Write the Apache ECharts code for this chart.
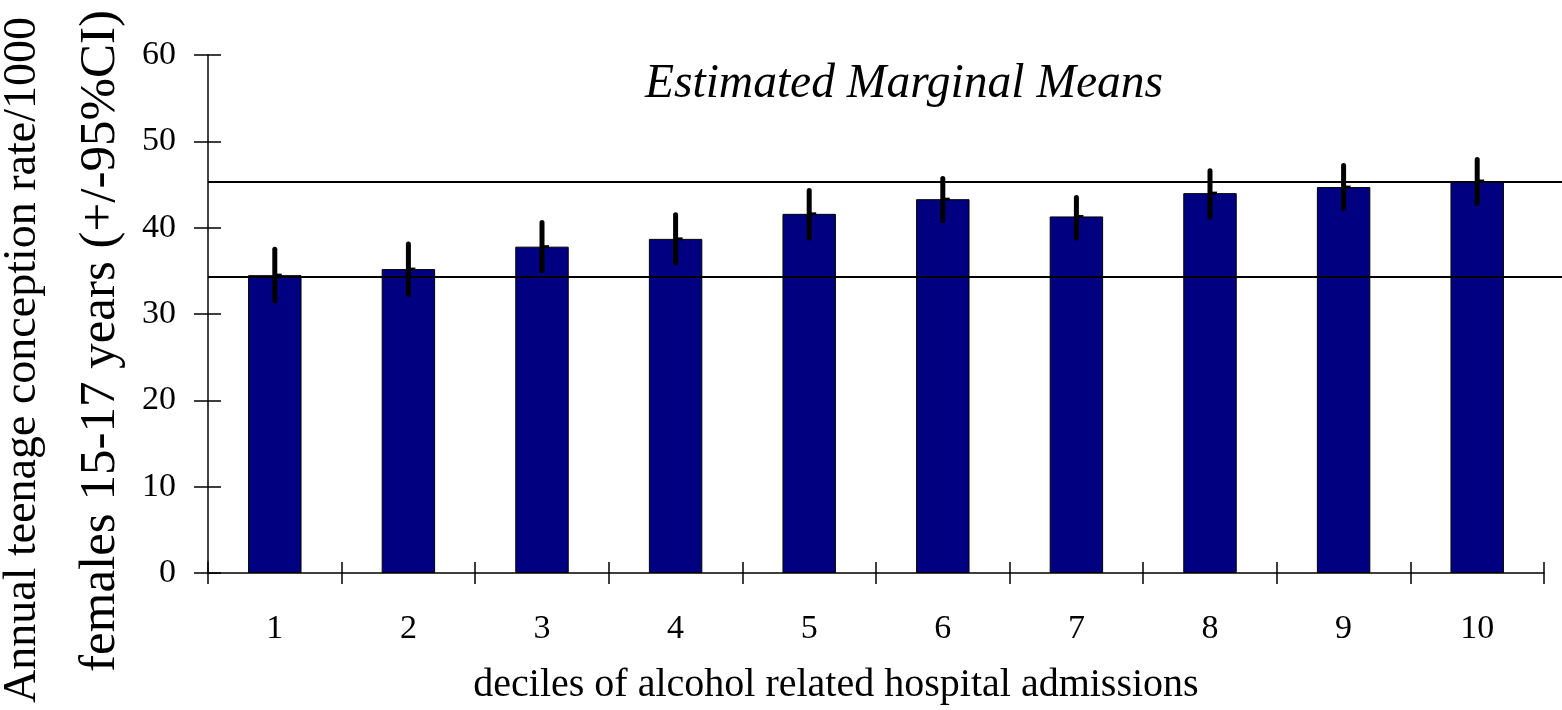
<!DOCTYPE html>
<html>
<head>
<meta charset="utf-8">
<script src="https://cdn.jsdelivr.net/npm/echarts@6/dist/echarts.min.js"></script>
<style>
  html, body { margin: 0; padding: 0; background: #fff; }
  #chart { width: 1562px; height: 710px; }
</style>
</head>
<body>
<div id="chart"></div>
<script>
// deciles of alcohol related hospital admissions
const categories = ["1", "2", "3", "4", "5", "6", "7", "8", "9", "10"];
// estimated marginal means and 95% CI
const means = [34.5, 35.2, 37.8, 38.7, 41.6, 43.3, 41.3, 44.0, 44.7, 45.4];
const lower = [31.5, 32.3, 35.0, 35.9, 38.8, 40.8, 38.8, 41.2, 42.2, 42.8];
const upper = [37.5, 38.1, 40.6, 41.5, 44.3, 45.7, 43.5, 46.6, 47.2, 47.9];
// horizontal reference lines
const refLines = [45.3, 34.3];

const fontFamily = "Liberation Serif";

const chart = echarts.init(document.getElementById("chart"));

const yBase = {
  type: "value",
  min: 0,
  max: 60,
  interval: 10,
  splitLine: { show: false }
};

const option = {
  backgroundColor: "#fff",
  animation: false,
  title: {
    text: "Estimated Marginal Means",
    left: 899,
    top: 56,
    textAlign: "center",
    textStyle: {
      fontFamily: fontFamily,
      fontStyle: "italic",
      fontWeight: "normal",
      fontSize: 47.5,
      color: "#000"
    }
  },
  grid: {
    left: 208,
    right: 18,
    top: 55,
    bottom: 137,
    containLabel: false,
    outerBoundsMode: "none"
  },
  xAxis: [
    {
      type: "category",
      data: categories,
      axisLine: { lineStyle: { color: "#000", width: 1.5 } },
      axisTick: { show: true, interval: 0, length: 11, lineStyle: { color: "#000", width: 1.5 } },
      axisLabel: {
        margin: 39,
        fontFamily: fontFamily,
        fontSize: 34,
        color: "#000"
      },
      name: "deciles of alcohol related hospital admissions",
      nameLocation: "middle",
      nameGap: 92,
      nameTextStyle: {
        fontFamily: fontFamily,
        fontSize: 40,
        color: "#000",
        padding: [0, 80, 0, 0]
      }
    },
    {
      type: "category",
      data: categories,
      position: "bottom",
      axisLine: { show: false },
      axisTick: { show: true, interval: 0, inside: true, length: 11, lineStyle: { color: "#000", width: 1.5 } },
      axisLabel: { show: false }
    }
  ],
  yAxis: [
    Object.assign({}, yBase, {
      axisLine: { show: true, lineStyle: { color: "#000", width: 1.5 } },
      axisTick: { show: true, length: 14, lineStyle: { color: "#000", width: 1.5 } },
      axisLabel: {
        margin: 32,
        fontFamily: fontFamily,
        fontSize: 34,
        color: "#000"
      },
      name: "{a|Annual teenage conception rate/1000}\n{b|females 15-17 years (+/-95%CI)}",
      nameLocation: "middle",
      nameGap: 68,
      nameTextStyle: {
        fontFamily: fontFamily,
        color: "#000",
        rich: {
          a: {
            fontFamily: fontFamily,
            fontSize: 46,
            lineHeight: 78,
            color: "#000",
            padding: [0, 92, 0, 0]
          },
          b: {
            fontFamily: fontFamily,
            fontSize: 51,
            lineHeight: 78,
            color: "#000",
            padding: [0, 54, 0, 0]
          }
        }
      }
    }),
    Object.assign({}, yBase, {
      position: "left",
      axisLine: { show: false },
      axisTick: { show: true, inside: true, length: 13, lineStyle: { color: "#000", width: 1.5 } },
      axisLabel: { show: false }
    })
  ],
  series: [
    {
      type: "bar",
      data: means,
      barWidth: "40%",
      itemStyle: {
        color: "#000080",
        borderColor: "#000",
        borderWidth: 1
      },
      z: 2
    },
    {
      // reference lines across the whole plot width
      type: "custom",
      data: refLines.map(function (v) { return [0, v]; }),
      encode: { x: 0, y: 1 },
      clip: false,
      z: 3,
      renderItem: function (params, api) {
        const y = api.coord([0, api.value(1)])[1];
        return {
          type: "line",
          shape: { x1: params.coordSys.x, y1: y, x2: api.getWidth(), y2: y },
          style: { stroke: "#000", lineWidth: 2 }
        };
      }
    },
    {
      // 95% CI error bars
      type: "custom",
      data: categories.map(function (c, i) { return [i, lower[i], upper[i], means[i]]; }),
      encode: { x: 0, y: [1, 2] },
      z: 4,
      renderItem: function (params, api) {
        const i = api.value(0);
        const lo = api.coord([i, api.value(1)]);
        const hi = api.coord([i, api.value(2)]);
        const m = api.coord([i, api.value(3)]);
        return {
          type: "group",
          children: [
            {
              type: "line",
              shape: { x1: lo[0], y1: lo[1], x2: hi[0], y2: hi[1] },
              style: { stroke: "#000", lineWidth: 5, lineCap: "round" }
            },
            {
              type: "line",
              shape: { x1: m[0], y1: m[1], x2: m[0] + 7, y2: m[1] },
              style: { stroke: "#000", lineWidth: 3 }
            }
          ]
        };
      }
    }
  ]
};

chart.setOption(option);
</script>
</body>
</html>
